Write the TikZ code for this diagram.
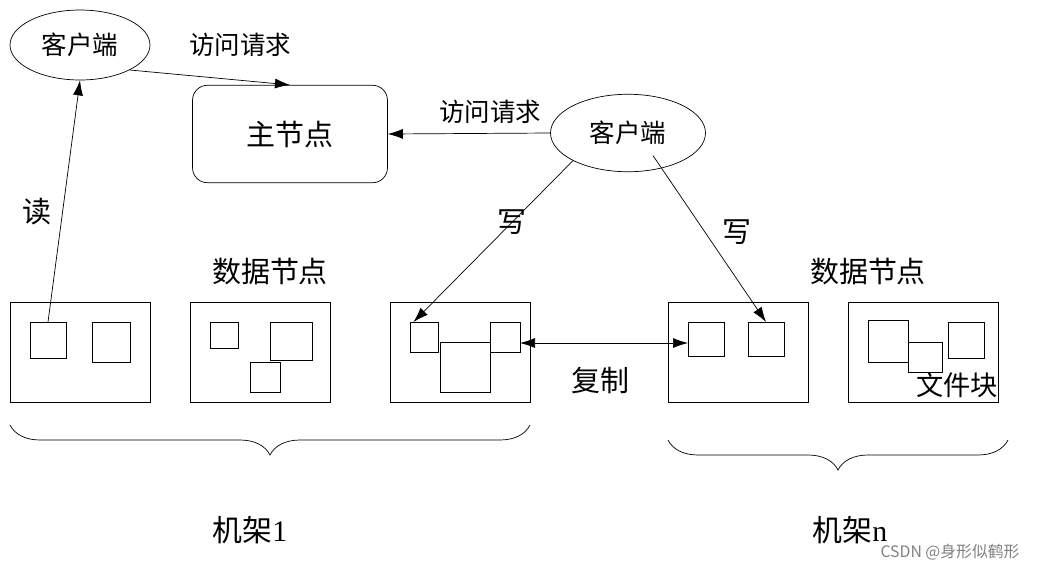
\documentclass[tikz,border=0pt]{standalone}
\usepackage{fontspec}
\setmainfont{Liberation Serif}
\newfontfamily\cjk{Noto Sans CJK SC}
\usetikzlibrary{arrows.meta,shapes.geometric,decorations.pathreplacing}
\tikzset{
    client/.style={ellipse,draw,minimum width=2.8cm,minimum height=1.4cm,inner sep=1pt,font=\cjk\fontsize{14.5pt}{17pt}\selectfont},
    rack/.style={draw,minimum width=2.8cm,minimum height=2cm},
    lbl/.style={font=\cjk\fontsize{16.5pt}{19pt}\selectfont},
    req/.style={font=\cjk\fontsize{14.5pt}{17pt}\selectfont},
    arr/.style={-{Latex[length=3mm,width=2mm]}}
}
\begin{document}
\begin{tikzpicture}[x=0.02cm,y=-0.02cm]
\useasboundingbox (0,0) rectangle (1038,569);
% clients and master
\node[client] (c1) at (80,45) {客户端};
\node[client,minimum width=3.1cm,minimum height=1.55cm] (c2) at (628,133) {客户端};
\node[draw,rounded corners=0.3cm,minimum width=3.9cm,minimum height=1.95cm,lbl] (m) at (290,134) {主节点};
\node[req] (t1) at (240,45) {访问请求};
\node[req] (t2) at (490,112) {访问请求};
% racks
\node[rack] (ra) at (80,352) {};
\node[rack] (rb) at (260,352) {};
\node[rack] (rc) at (460,352) {};
\node[rack] (rd) at (738,352) {};
\node[rack,minimum width=3cm] (re) at (923,352) {};
% blocks
\draw (30,322) rectangle (66,358);
\draw (92,322) rectangle (130,362);
\draw (210,322) rectangle (238,348);
\draw (270,322) rectangle (312,360);
\draw (250,362) rectangle (280,392);
\draw (410,322) rectangle (438,352);
\draw (440,342) rectangle (490,392);
\draw (490,322) rectangle (520,352);
\draw (688,322) rectangle (724,356);
\draw (748,322) rectangle (784,356);
\draw (868,320) rectangle (908,362);
\draw[fill=white] (908,342) rectangle (942,372);
\draw (948,322) rectangle (984,358);
\coordinate (a1) at (48,322);
\coordinate (cl) at (410,322);
\coordinate (cr) at (520,343);
\coordinate (dl) at (688,343);
\coordinate (d2) at (766,322);
% connectors
\draw[arr] (a1) -- (c1.south);
\draw[arr] (c1.south east) -- (m.north);
\draw[arr] (c2.west) -- (m.east);
\draw[arr] (c2.south west) -- ([xshift=2pt]cl);
\draw[arr] ([xshift=-0.6cm,yshift=0.1cm]c2.south east) -- (d2);
\draw[{Latex[length=3mm,width=2mm]}-{Latex[length=3mm,width=2mm]}] (cr) -- (dl);
% labels
\node[lbl] at (37,212) {读};
\node[lbl] at (512,222) {写};
\node[lbl] at (737,232) {写};
\node[lbl] at (270,272) {数据节点};
\node[lbl] at (868,272) {数据节点};
\node[lbl] at (600,380) {复制};
\node[lbl,font=\cjk\fontsize{15.5pt}{18pt}\selectfont] at (957,385) {文件块};
% braces
\draw[decorate,decoration={brace,mirror,amplitude=0.6cm}] (10,425) -- (530,425);
\draw[decorate,decoration={brace,mirror,amplitude=0.6cm}] (668,440) -- (1008,440);
\node[font=\fontsize{17pt}{20pt}\selectfont] at (250,530) {{\cjk 机架}1};
\node[font=\fontsize{17pt}{20pt}\selectfont] at (850,530) {{\cjk 机架}n};
\node[font=\cjk\fontsize{9pt}{11pt}\selectfont,text=gray] at (950,552) {CSDN @身形似鹤形};
\end{tikzpicture}
\end{document}
